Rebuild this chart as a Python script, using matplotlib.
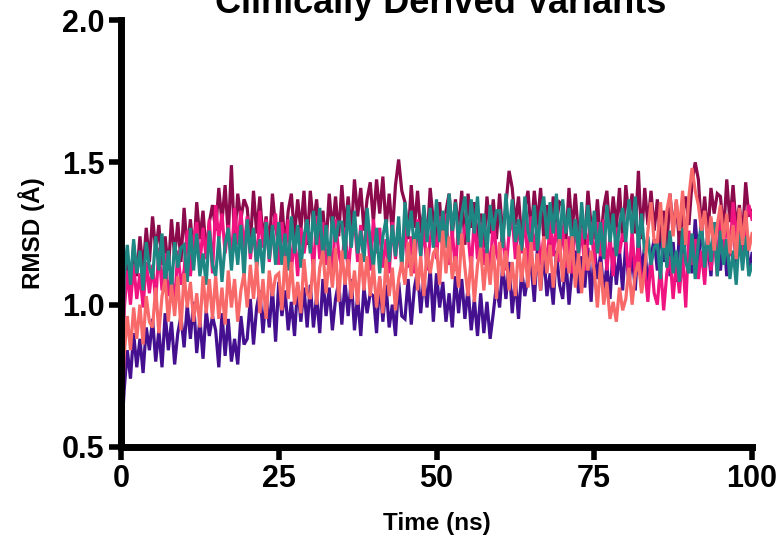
import numpy as np
import matplotlib
matplotlib.use("Agg")
import matplotlib.pyplot as plt

plt.rcParams['font.family'] = ['Liberation Sans', 'DejaVu Sans']

# time grid (ns), sampled every 0.5 ns
time_ns = np.arange(0, 100.01, 0.5)

# RMSD values in hundredths of an Angstrom
indigo_c = [
    50, 70, 84, 74, 90, 78, 88, 76, 92, 84,
    95, 80, 91, 78, 97, 84, 94, 79, 90, 96,
    85, 100, 88, 101, 83, 95, 81, 98, 89, 96,
    91, 78, 97, 82, 95, 80, 88, 79, 96, 86,
    88, 102, 86, 99, 105, 90, 103, 92, 106, 87,
    108, 96, 105, 91, 101, 89, 107, 94, 106, 92,
    107, 92, 103, 90, 109, 96, 106, 91, 102, 108,
    93, 108, 96, 109, 91, 103, 89, 106, 97, 104,
    103, 90, 109, 94, 107, 92, 100, 89, 108, 96,
    95, 109, 93, 106, 112, 97, 110, 99, 113, 94,
    111, 99, 108, 94, 104, 92, 110, 97, 109, 95,
    106, 91, 102, 89, 104, 90, 101, 88, 97, 107,
    99, 114, 102, 115, 97, 109, 95, 112, 103, 110,
    114, 101, 120, 105, 118, 103, 111, 100, 119, 107,
    102, 116, 100, 113, 119, 104, 117, 106, 120, 101,
    121, 109, 118, 104, 114, 102, 120, 107, 119, 105,
    122, 107, 118, 105, 124, 111, 121, 106, 117, 123,
    112, 127, 115, 128, 110, 122, 108, 125, 116, 123,
    124, 111, 130, 115, 128, 113, 121, 110, 129, 117,
    112, 126, 110, 123, 129, 114, 127, 116, 130, 111,
    118]

maroon_c = [
    50, 104, 116, 106, 121, 110, 124, 112, 127, 115,
    131, 119, 128, 114, 124, 112, 130, 117, 129, 115,
    134, 119, 130, 117, 136, 123, 133, 118, 129, 135,
    126, 141, 129, 142, 124, 149, 122, 139, 130, 137,
    134, 121, 140, 125, 138, 123, 131, 120, 139, 127,
    122, 136, 120, 133, 139, 124, 137, 126, 140, 121,
    140, 128, 137, 123, 133, 121, 139, 126, 138, 124,
    142, 127, 138, 125, 144, 131, 141, 126, 137, 143,
    129, 144, 132, 145, 127, 139, 125, 142, 151, 140,
    136, 123, 142, 127, 140, 125, 133, 122, 141, 129,
    122, 136, 120, 133, 139, 124, 137, 126, 140, 121,
    139, 127, 136, 122, 132, 120, 138, 125, 137, 123,
    139, 124, 135, 147, 141, 128, 138, 123, 134, 140,
    125, 140, 128, 141, 123, 135, 121, 138, 129, 136,
    135, 122, 141, 126, 139, 124, 132, 121, 140, 128,
    123, 137, 121, 134, 140, 125, 138, 127, 141, 122,
    142, 130, 139, 125, 147, 123, 141, 128, 140, 126,
    137, 122, 133, 120, 139, 126, 136, 121, 132, 138,
    128, 143, 150, 144, 126, 138, 124, 141, 132, 139,
    138, 125, 144, 129, 142, 127, 135, 124, 143, 131,
    133]

pink_c = [
    50, 98, 112, 100, 114, 102, 111, 99, 115, 104,
    114, 101, 120, 105, 118, 103, 111, 100, 119, 107,
    112, 126, 110, 123, 129, 114, 127, 116, 130, 111,
    135, 123, 132, 118, 128, 116, 134, 121, 133, 119,
    131, 116, 127, 114, 133, 120, 130, 115, 126, 132,
    114, 129, 117, 130, 112, 124, 110, 127, 118, 125,
    125, 112, 131, 116, 129, 114, 122, 111, 130, 118,
    113, 127, 111, 124, 130, 115, 128, 117, 131, 112,
    130, 118, 127, 113, 123, 111, 129, 116, 128, 114,
    128, 113, 124, 111, 130, 117, 127, 112, 123, 129,
    116, 131, 119, 132, 114, 126, 112, 129, 120, 127,
    125, 112, 131, 116, 129, 114, 122, 111, 130, 118,
    114, 128, 112, 125, 131, 116, 129, 118, 132, 113,
    131, 119, 128, 114, 124, 112, 130, 117, 129, 115,
    128, 113, 124, 111, 130, 117, 127, 112, 123, 129,
    114, 129, 117, 130, 112, 124, 110, 127, 118, 125,
    122, 108, 126, 110, 121, 106, 113, 101, 117, 104,
    100, 114, 98, 111, 117, 102, 115, 104, 118, 99,
    126, 114, 123, 109, 119, 107, 125, 112, 124, 110,
    134, 119, 130, 117, 136, 123, 133, 118, 129, 135,
    130]

teal_c = [
    50, 110, 121, 107, 123, 111, 119, 105, 122, 113,
    109, 124, 112, 125, 107, 119, 105, 122, 113, 120,
    121, 108, 127, 112, 125, 110, 118, 107, 126, 114,
    110, 124, 108, 121, 127, 112, 125, 114, 128, 109,
    130, 118, 127, 113, 123, 111, 129, 116, 128, 114,
    129, 114, 125, 112, 131, 118, 128, 113, 124, 130,
    118, 133, 121, 134, 116, 128, 114, 131, 122, 129,
    129, 116, 135, 120, 133, 118, 126, 115, 134, 122,
    113, 127, 111, 124, 130, 115, 128, 117, 131, 112,
    136, 124, 133, 119, 129, 117, 135, 122, 134, 120,
    137, 122, 133, 120, 139, 126, 136, 121, 132, 138,
    122, 137, 125, 138, 120, 132, 118, 135, 126, 133,
    133, 120, 139, 124, 137, 122, 130, 119, 138, 126,
    121, 135, 119, 132, 138, 123, 136, 125, 139, 120,
    137, 125, 134, 120, 130, 118, 136, 123, 135, 121,
    133, 118, 129, 116, 135, 122, 132, 117, 128, 134,
    122, 137, 125, 138, 120, 132, 118, 124, 114, 120,
    122, 109, 128, 113, 126, 111, 119, 108, 127, 115,
    111, 125, 109, 122, 128, 113, 126, 115, 129, 110,
    126, 114, 123, 109, 119, 107, 125, 112, 124, 110,
    114]

salmon_c = [
    50, 82, 96, 84, 99, 88, 100, 86, 103, 94,
    92, 106, 90, 103, 109, 94, 107, 96, 110, 91,
    111, 99, 108, 94, 104, 92, 110, 97, 109, 95,
    110, 95, 106, 93, 112, 99, 109, 94, 105, 111,
    99, 114, 102, 115, 97, 109, 95, 112, 103, 110,
    111, 98, 117, 102, 115, 100, 108, 97, 116, 104,
    102, 116, 100, 113, 119, 104, 117, 106, 120, 101,
    119, 107, 116, 102, 112, 100, 118, 105, 117, 103,
    114, 99, 110, 97, 116, 103, 113, 98, 109, 115,
    107, 122, 110, 123, 105, 117, 103, 120, 111, 118,
    120, 107, 126, 111, 124, 109, 117, 106, 125, 113,
    103, 117, 101, 114, 120, 105, 118, 107, 121, 102,
    122, 110, 119, 105, 115, 103, 121, 108, 120, 106,
    122, 107, 118, 105, 124, 111, 121, 106, 117, 123,
    108, 123, 111, 124, 106, 118, 104, 121, 112, 119,
    112, 99, 115, 100, 108, 95, 101, 94, 106, 98,
    102, 113, 100, 111, 115, 104, 112, 126, 136, 122,
    122, 136, 120, 133, 139, 124, 137, 126, 140, 121,
    138, 148, 140, 135, 126, 133, 121, 131, 119, 128,
    135, 123, 132, 118, 128, 116, 134, 121, 133, 119,
    125]

series = [
    (indigo_c, '#45108F'),
    (maroon_c, '#8B0A4C'),
    (pink_c, '#F01480'),
    (teal_c, '#1E8784'),
    (salmon_c, '#F8696A'),
]

fig = plt.figure(figsize=(7.83, 5.43), dpi=100)
ax = fig.add_axes([121/783, 96/543, (752-121)/783, (523-96)/543])

for vals, col in series:
    ax.plot(time_ns, np.array(vals) / 100.0, color=col, lw=2.3,
            solid_joinstyle='miter', clip_on=True)

ax.set_xlim(0, 100)
ax.set_ylim(0.5, 2.0)
ax.set_xticks([0, 25, 50, 75, 100])
ax.set_yticks([0.5, 1.0, 1.5, 2.0])
ax.set_yticklabels(['0.5', '1.0', '1.5', '2.0'])

for s in ['top', 'right']:
    ax.spines[s].set_visible(False)
for s in ['left', 'bottom']:
    ax.spines[s].set_linewidth(5)
    ax.spines[s].set_capstyle('projecting')
    ax.spines[s].set_zorder(3)

ax.tick_params(axis='both', which='major', direction='out', length=9, width=4,
               labelsize=22, pad=3)
for lab in ax.get_xticklabels() + ax.get_yticklabels():
    lab.set_fontweight('bold')

ax.set_xlabel('Time (ns)', fontsize=17.5, fontweight='bold', labelpad=13)
ax.set_ylabel('RMSD (Å)', fontsize=17.5, fontweight='bold', labelpad=12)

fig.text(0.563, 0.976, 'Clinically Derived Variants', ha='center', va='baseline',
         fontsize=26, fontweight='bold')

fig.savefig('out.png', dpi=100)
